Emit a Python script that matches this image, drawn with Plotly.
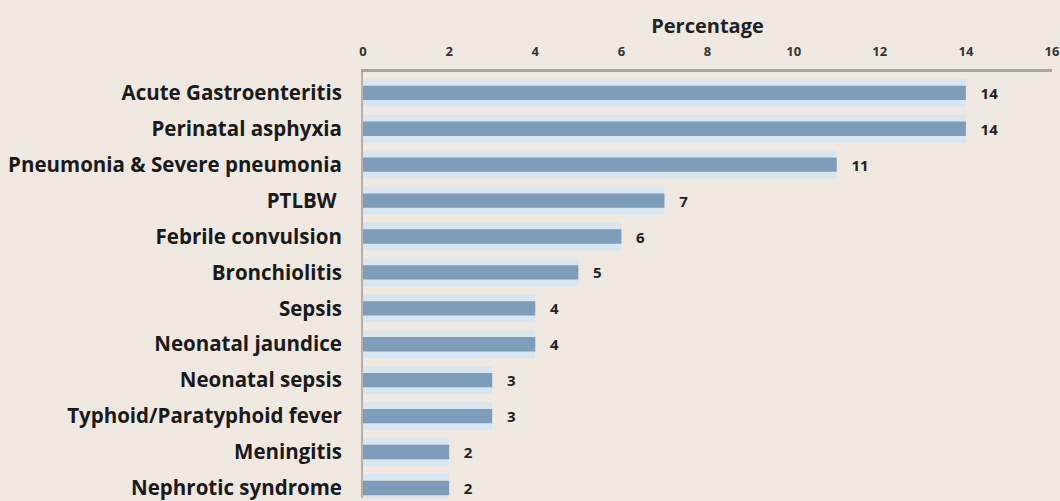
import plotly.graph_objects as go

categories = [
    "Acute Gastroenteritis",
    "Perinatal asphyxia",
    "Pneumonia & Severe pneumonia",
    "PTLBW ",
    "Febrile convulsion",
    "Bronchiolitis",
    "Sepsis",
    "Neonatal jaundice",
    "Neonatal sepsis",
    "Typhoid/Paratyphoid fever",
    "Meningitis",
    "Nephrotic syndrome",
]
values = [14, 14, 11, 7, 6, 5, 4, 4, 3, 3, 2, 2]
tick_values = [0, 2, 4, 6, 8, 10, 12, 14, 16]
tick_labels = ["0", "2", "4", "6", "8", "10", "12", "14", "16"]
axis_title = "Percentage"

BG = "#eee8e1"
LIGHT = "#d8e5ee"
DARK = "#7d9dbb"
FONT = "Open Sans"

fig = go.Figure()
fig.add_trace(go.Bar(
    y=categories, x=values, orientation="h", width=0.78,
    marker=dict(color=LIGHT, line=dict(width=0)),
    hoverinfo="skip", showlegend=False,
))
fig.add_trace(go.Bar(
    y=categories, x=values, orientation="h", width=0.4,
    marker=dict(color=DARK, line=dict(width=0)),
    text=[f"\u00a0\u00a0\u00a0{v}" for v in values],
    textposition="outside", cliponaxis=False, constraintext="none",
    textfont=dict(family=FONT, size=15, color="#222222", weight="bold"),
    showlegend=False,
))

fig.update_layout(
    width=1060, height=501,
    barmode="overlay",
    paper_bgcolor=BG, plot_bgcolor=BG,
    margin=dict(l=363, r=8, t=72, b=0),
    font=dict(family=FONT, color="#222222"),
    xaxis=dict(
        side="top", range=[0, 16], tickvals=tick_values, ticktext=tick_labels,
        showgrid=False, zeroline=False, showline=True, linecolor="#a9a6a2", linewidth=3,
        ticks="", ticklabelstandoff=8,
        tickfont=dict(family=FONT, size=13, color="#333333", weight="bold"),
        title=dict(text=axis_title, font=dict(family=FONT, size=20, color="#222222", weight="bold"), standoff=3),
    ),
    yaxis=dict(
        type="category", range=[11.28, -0.58],
        showgrid=False, zeroline=False, showline=True, linecolor="#b3b0ac", linewidth=2,
        ticks="", ticklabelstandoff=15,
        tickfont=dict(family=FONT, size=20.5, color="#1a1a1a", weight="bold"),
    ),
)

fig.write_html(
    "out.html",
    config={"displayModeBar": False},
    post_script="document.body.style.margin='0';document.body.style.background='#eee8e1';",
)
